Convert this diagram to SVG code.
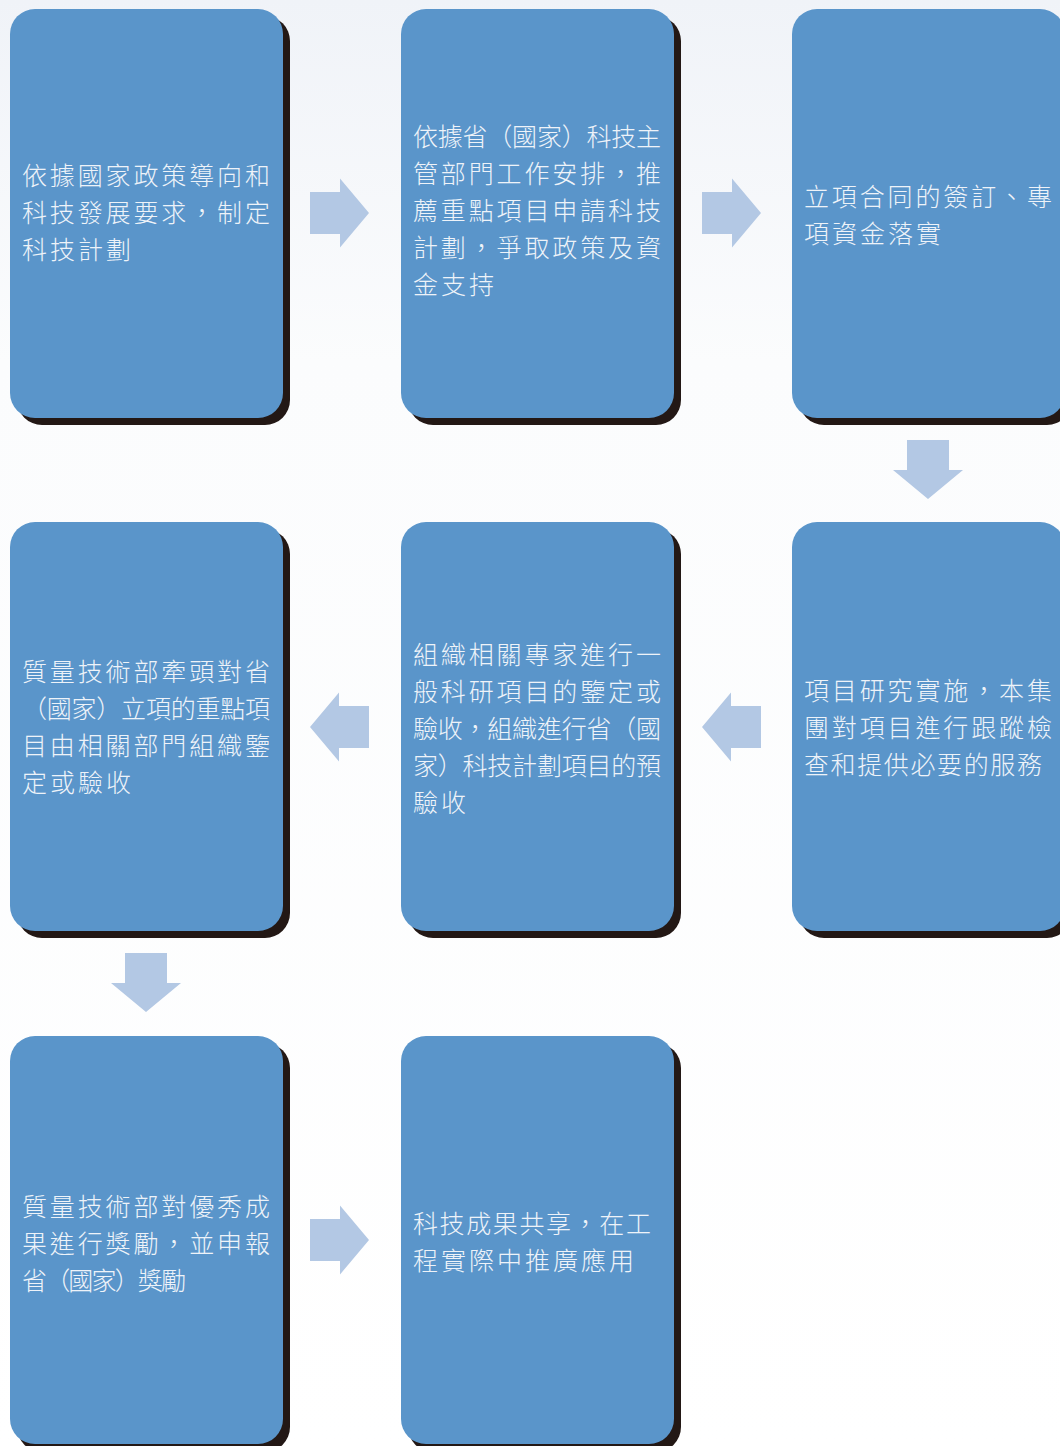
<svg xmlns="http://www.w3.org/2000/svg" width="1060" height="1446" viewBox="0 0 1060 1446">
<defs>
<linearGradient id="bg" x1="0" y1="0" x2="0" y2="1">
<stop offset="0" stop-color="#F0F3F8"/>
<stop offset="0.25" stop-color="#FBFCFD"/>
<stop offset="1" stop-color="#FFFFFF"/>
</linearGradient>
<path id="arrR" d="M0,-21 L30,-21 L30,-34.5 L59,0 L30,34.5 L30,21 L0,21 Z"/>
<path id="arrL" d="M59,-21 L29,-21 L29,-34.5 L0,0 L29,34.5 L29,21 L59,21 Z"/>
<path id="arrD" d="M-21,0 L21,0 L21,30 L35,30 L0,59 L-35,30 L-21,30 Z"/>
</defs>
<style>
.sh{fill:#231815}
.bx{fill:#5A95CA}
.ar{fill:#B3C8E4}
.t{font-family:"Noto Sans CJK TC","Noto Sans CJK SC",sans-serif;font-size:25px;font-weight:300;fill:#EEF3F9}
.p{letter-spacing:3px}
</style>
<rect x="0" y="0" width="1060" height="1446" fill="url(#bg)"/>

<g id="connectors">
<use href="#arrR" class="ar" x="310" y="213"/>
<use href="#arrR" class="ar" x="702" y="213"/>
<use href="#arrD" class="ar" x="928" y="440"/>
<use href="#arrL" class="ar" x="702" y="727"/>
<use href="#arrL" class="ar" x="310" y="727"/>
<use href="#arrD" class="ar" x="146" y="953"/>
<use href="#arrR" class="ar" x="310" y="1240"/>
</g>

<g id="n1">
<rect class="sh" x="17" y="16" width="273" height="409" rx="25"/>
<rect class="bx" x="10" y="9" width="273" height="409" rx="25"/>
<text class="t" x="22" y="185" textLength="248" lengthAdjust="spacing">依據國家政策導向和</text>
<text class="t" x="22" y="222" textLength="248" lengthAdjust="spacing">科技發展要求，制定</text>
<text class="t p" x="22" y="259">科技計劃</text>
</g>

<g id="n2">
<rect class="sh" x="408" y="16" width="273" height="409" rx="25"/>
<rect class="bx" x="401" y="9" width="273" height="409" rx="25"/>
<text class="t" x="413" y="146" textLength="248" lengthAdjust="spacing">依據省（國家）科技主</text>
<text class="t" x="413" y="183" textLength="248" lengthAdjust="spacing">管部門工作安排，推</text>
<text class="t" x="413" y="220" textLength="248" lengthAdjust="spacing">薦重點項目申請科技</text>
<text class="t" x="413" y="257" textLength="248" lengthAdjust="spacing">計劃，爭取政策及資</text>
<text class="t p" x="413" y="294">金支持</text>
</g>

<g id="n3">
<rect class="sh" x="799" y="16" width="273" height="409" rx="25"/>
<rect class="bx" x="792" y="9" width="273" height="409" rx="25"/>
<text class="t" x="804" y="206" textLength="248" lengthAdjust="spacing">立項合同的簽訂、專</text>
<text class="t p" x="804" y="243">項資金落實</text>
</g>

<g id="n4">
<rect class="sh" x="799" y="529" width="273" height="409" rx="25"/>
<rect class="bx" x="792" y="522" width="273" height="409" rx="25"/>
<text class="t" x="804" y="700" textLength="248" lengthAdjust="spacing">項目研究實施，本集</text>
<text class="t" x="804" y="737" textLength="248" lengthAdjust="spacing">團對項目進行跟蹤檢</text>
<text class="t" x="804" y="774" textLength="238" lengthAdjust="spacing">查和提供必要的服務</text>
</g>

<g id="n5">
<rect class="sh" x="408" y="529" width="273" height="409" rx="25"/>
<rect class="bx" x="401" y="522" width="273" height="409" rx="25"/>
<text class="t" x="413" y="664" textLength="248" lengthAdjust="spacing">組織相關專家進行一</text>
<text class="t" x="413" y="701" textLength="248" lengthAdjust="spacing">般科研項目的鑒定或</text>
<text class="t" x="413" y="738" textLength="248" lengthAdjust="spacing">驗收，組織進行省（國</text>
<text class="t" x="413" y="775" textLength="248" lengthAdjust="spacing">家）科技計劃項目的預</text>
<text class="t p" x="413" y="812">驗收</text>
</g>

<g id="n6">
<rect class="sh" x="17" y="529" width="273" height="409" rx="25"/>
<rect class="bx" x="10" y="522" width="273" height="409" rx="25"/>
<text class="t" x="22" y="681" textLength="248" lengthAdjust="spacing">質量技術部牽頭對省</text>
<text class="t" x="22" y="718" textLength="248" lengthAdjust="spacing">（國家）立項的重點項</text>
<text class="t" x="22" y="755" textLength="248" lengthAdjust="spacing">目由相關部門組織鑒</text>
<text class="t p" x="22" y="792">定或驗收</text>
</g>

<g id="n7">
<rect class="sh" x="17" y="1043" width="273" height="409" rx="25"/>
<rect class="bx" x="10" y="1036" width="273" height="408" rx="25"/>
<text class="t" x="22" y="1216" textLength="248" lengthAdjust="spacing">質量技術部對優秀成</text>
<text class="t" x="22" y="1253" textLength="248" lengthAdjust="spacing">果進行獎勵，並申報</text>
<text class="t" x="22" y="1290" textLength="164" lengthAdjust="spacing">省（國家）獎勵</text>
</g>

<g id="n8">
<rect class="sh" x="408" y="1043" width="273" height="409" rx="25"/>
<rect class="bx" x="401" y="1036" width="273" height="408" rx="25"/>
<text class="t" x="413" y="1233" textLength="238" lengthAdjust="spacing">科技成果共享，在工</text>
<text class="t p" x="413" y="1270">程實際中推廣應用</text>
</g>
</svg>
